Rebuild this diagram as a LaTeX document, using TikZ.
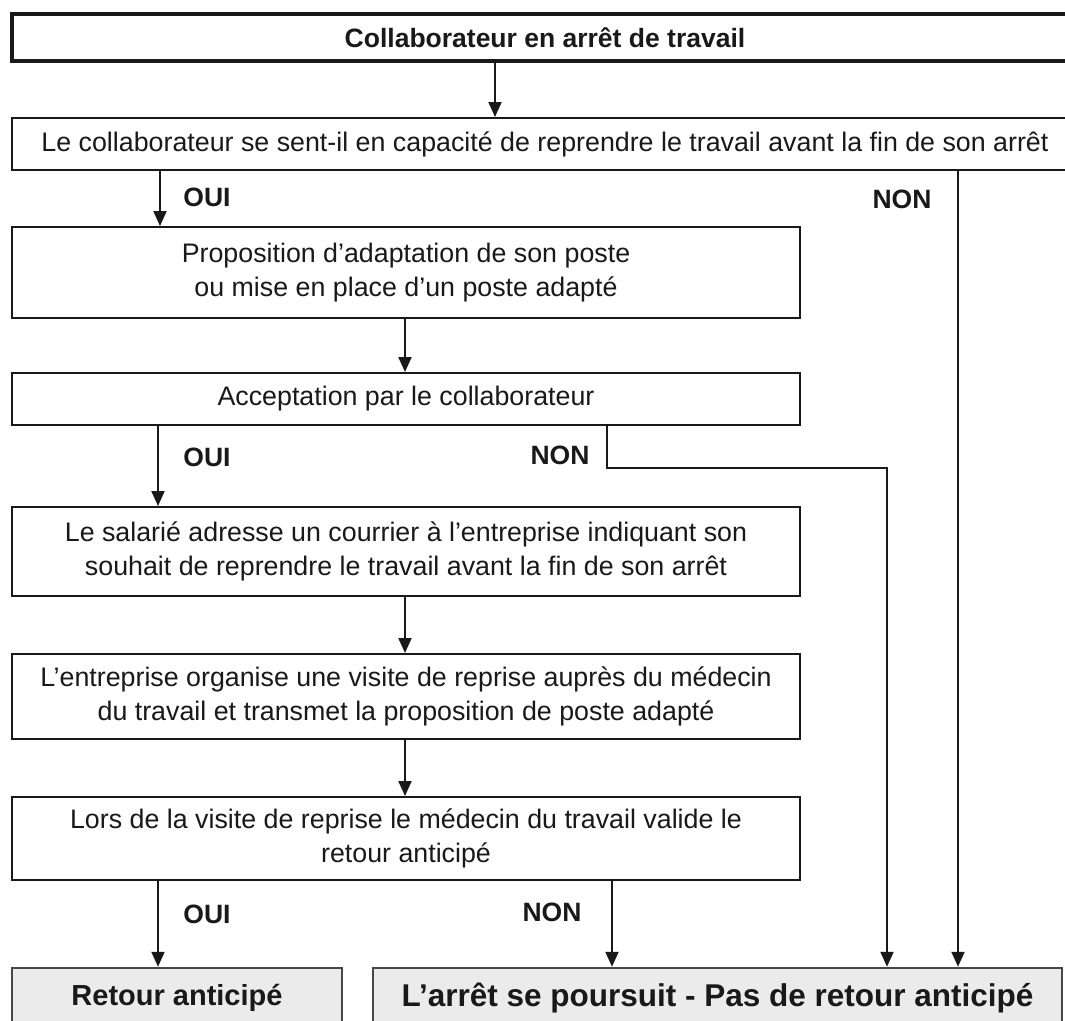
\documentclass[tikz,border=0pt]{standalone}
\usepackage{fontspec}
\setmainfont{Liberation Sans}
\usetikzlibrary{arrows.meta}
\begin{document}
\begin{tikzpicture}[x=1pt,y=-1pt,
  box/.style={draw=black!90, line width=2pt, rectangle, inner sep=0pt, align=center, text=black!90, font=\fontsize{26.8}{34}\selectfont},
  thickbox/.style={box, line width=4.5pt, font=\bfseries\fontsize{26.5}{32}\selectfont},
  endbox/.style={box, draw=black!72, fill=black!8, line width=2.5pt},
  arr/.style={line width=2pt, draw=black!90, -{Triangle[width=13pt,length=15pt]}},
  lab/.style={font=\bfseries\fontsize{26.5}{32}\selectfont, text=black!90, inner sep=0pt}]
\useasboundingbox (0,0) rectangle (1065,1020);
\begin{scope}
\clip (0,0) rectangle (1065,1020);
\fill[white] (0,0) rectangle (1065,1020);
\node[thickbox, minimum width=1066pt, minimum height=47pt] (top) at (545,37.5) {Collaborateur en arrêt de travail};
\node[box, minimum width=1066pt, minimum height=52pt] (q1) at (545,144) {Le collaborateur se sent-il en capacité de reprendre le travail avant la fin de son arrêt};
\node[box, minimum width=788pt, minimum height=91pt] (prop) at (406,272.5) {Proposition d’adaptation de son poste\\ou mise en place d’un poste adapté};
\node[box, minimum width=788pt, minimum height=52pt] (acc) at (406,399) {Acceptation par le collaborateur};
\node[box, minimum width=788pt, minimum height=89pt] (sal) at (406,551.5) {Le salarié adresse un courrier à l’entreprise indiquant son\\souhait de reprendre le travail avant la fin de son arrêt};
\node[box, minimum width=788pt, minimum height=85pt] (ent) at (406,696.5) {L’entreprise organise une visite de reprise auprès du médecin\\du travail et transmet la proposition de poste adapté};
\node[box, minimum width=788pt, minimum height=83pt] (vis) at (406,838.5) {Lors de la visite de reprise le médecin du travail valide le\\retour anticipé};
\node[endbox, minimum width=330pt, minimum height=60pt, font=\bfseries\fontsize{29}{34}\selectfont] (ret) at (177,998) {Retour anticipé};
\node[endbox, minimum width=689pt, minimum height=60pt, font=\bfseries\fontsize{31.5}{36}\selectfont] (pas) at (717.5,998) {L’arrêt se poursuit - Pas de retour anticipé};

\coordinate (nb1) at (607,468);
\coordinate (nb2) at (887,468);

\draw[arr] (495,0 |- top.south) -- (495,0 |- q1.north);
\draw[arr] (160,0 |- q1.south) -- (160,0 |- prop.north);
\draw[arr] (958,0 |- q1.south) -- (958,0 |- pas.north);
\draw[arr] (405,0 |- prop.south) -- (405,0 |- acc.north);
\draw[arr] (158,0 |- acc.south) -- (158,0 |- sal.north);
\draw[arr] (nb1 |- acc.south) -- (nb1) -- (nb2) -- (nb2 |- pas.north);
\draw[arr] (405,0 |- sal.south) -- (405,0 |- ent.north);
\draw[arr] (405,0 |- ent.south) -- (405,0 |- vis.north);
\draw[arr] (158,0 |- vis.south) -- (158,0 |- ret.north);
\draw[arr] (612,0 |- vis.south) -- (612,0 |- pas.north);

\node[lab] (oui1) at (207,197) {OUI};
\node[lab] (non1) at (902,199) {NON};
\node[lab] (oui2) at (207,457) {OUI};
\node[lab] (non2) at (560,455) {NON};
\node[lab] (oui3) at (207,914) {OUI};
\node[lab] (non3) at (552,912) {NON};
\end{scope}
\end{tikzpicture}
\end{document}
